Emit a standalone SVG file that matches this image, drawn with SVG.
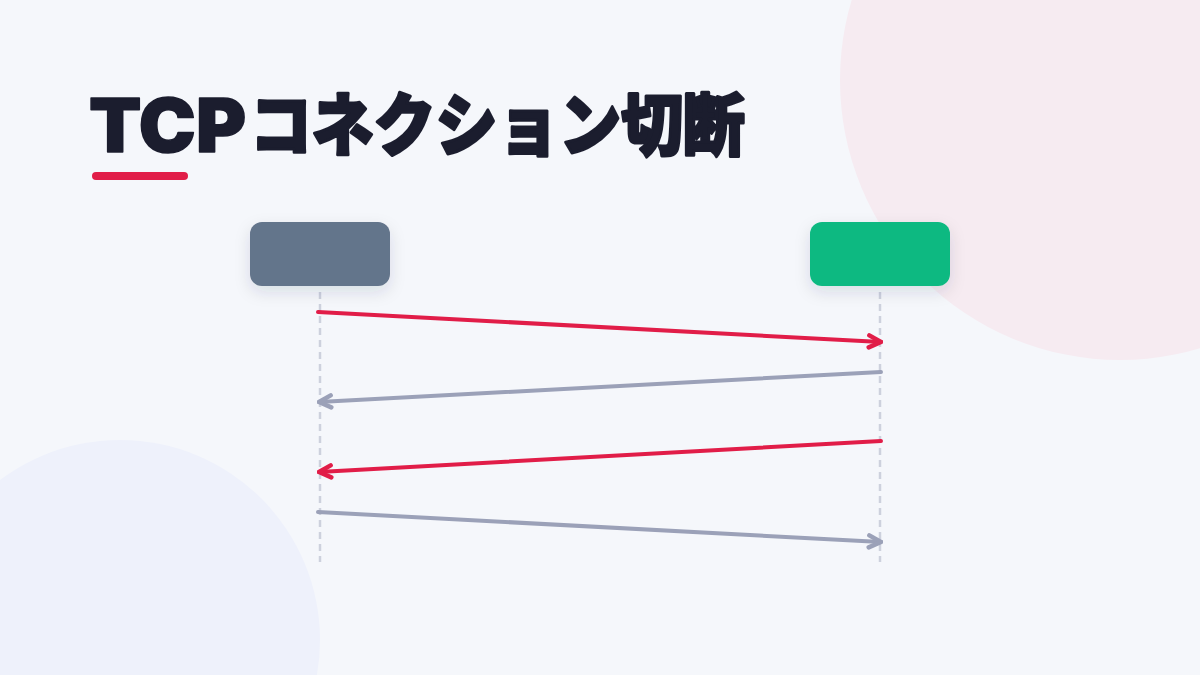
<svg xmlns="http://www.w3.org/2000/svg" width="1200" height="675" viewBox="0 0 1200 675">
<defs>
<style>
.lat{font-family:Inter,"Noto Sans",sans-serif;font-weight:900;font-size:74px;fill:#1b1d2e;stroke:#1b1d2e;stroke-width:1.5;stroke-linejoin:round}
.cjk{font-family:"Noto Sans CJK JP",sans-serif;font-weight:900;font-size:68px;fill:#1b1d2e;stroke:#1b1d2e;stroke-width:3;stroke-linejoin:round}
.life{stroke:#cdd1dd;stroke-width:2.5;stroke-dasharray:7 5;fill:none}
.msg{fill:none;stroke-width:4;stroke-linecap:round}
.red{stroke:#e11d48}
.grey{stroke:#9ba1b8}
</style>
<filter id="sh" x="-30%" y="-40%" width="160%" height="200%">
<feDropShadow dx="0" dy="6" stdDeviation="8" flood-color="#1e2a4a" flood-opacity="0.12"/>
</filter>
<marker id="ar" viewBox="0 0 18 18" refX="16" refY="9" markerWidth="18" markerHeight="18" markerUnits="userSpaceOnUse" orient="auto">
<path d="M4,3 L16,9 L4,15" fill="none" stroke="#e11d48" stroke-width="4.5" stroke-linecap="round" stroke-linejoin="round"/>
</marker>
<marker id="ag" viewBox="0 0 18 18" refX="16" refY="9" markerWidth="18" markerHeight="18" markerUnits="userSpaceOnUse" orient="auto">
<path d="M4,3 L16,9 L4,15" fill="none" stroke="#9ba1b8" stroke-width="4.5" stroke-linecap="round" stroke-linejoin="round"/>
</marker>
</defs>
<rect width="1200" height="675" fill="#f5f7fb"/>
<circle cx="1120" cy="80" r="280" fill="#f6ebf1"/>
<circle cx="120" cy="640" r="200" fill="#eef1fb"/>
<g id="title">
<text class="lat" x="89" y="152" textLength="157" lengthAdjust="spacingAndGlyphs">TCP</text>
<text class="cjk" x="250" y="150" textLength="495" lengthAdjust="spacingAndGlyphs">コネクション切断</text>
<rect x="92" y="172" width="96" height="8" rx="4" fill="#e11d48"/>
</g>
<g id="lifelines">
<line class="life" x1="320" y1="292" x2="320" y2="562"/>
<line class="life" x1="880" y1="292" x2="880" y2="562"/>
</g>
<g id="node-client">
<rect x="250" y="222" width="140" height="64" rx="12" fill="#64748b" filter="url(#sh)"/>
</g>
<g id="node-server">
<rect x="810" y="222" width="140" height="64" rx="12" fill="#10b981" filter="url(#sh)"/>
</g>
<g id="connectors">
<line class="msg red" x1="318" y1="312" x2="881" y2="342" marker-end="url(#ar)"/>
<line class="msg grey" x1="881" y1="372" x2="319" y2="402" marker-end="url(#ag)"/>
<line class="msg red" x1="881" y1="441" x2="319" y2="472" marker-end="url(#ar)"/>
<line class="msg grey" x1="318" y1="512" x2="881" y2="542" marker-end="url(#ag)"/>
</g>
</svg>
